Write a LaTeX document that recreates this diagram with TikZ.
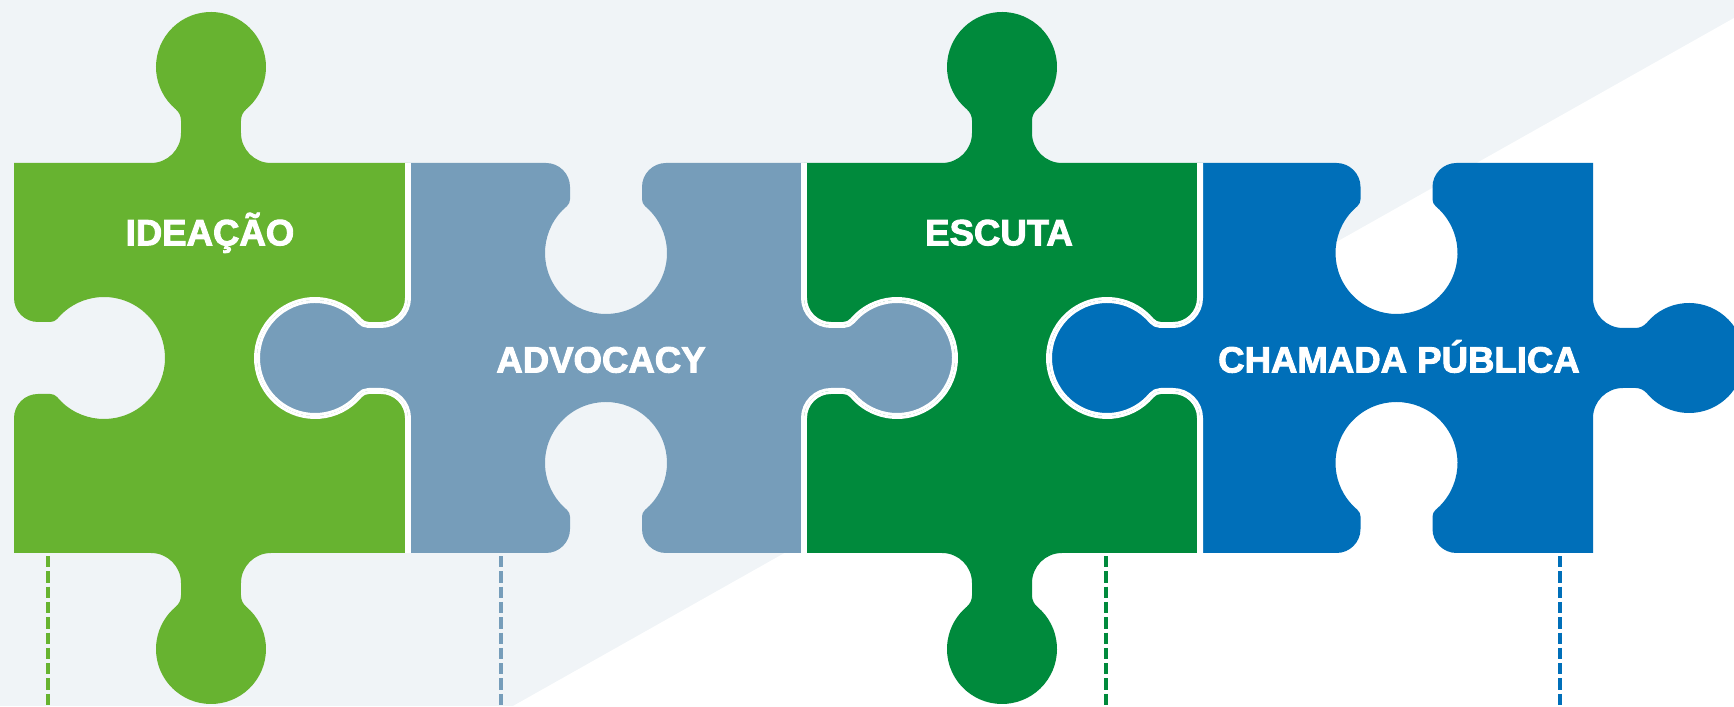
\documentclass[tikz,border=0pt]{standalone}
\usepackage{fontspec}
\setmainfont{Liberation Sans}[BoldFeatures={FakeBold=2.5}]

\definecolor{bgcol}{RGB}{240,244,247}
\definecolor{ideacol}{RGB}{103,179,48}
\definecolor{advcol}{RGB}{118,157,186}
\definecolor{escol}{RGB}{0,138,60}
\definecolor{chamcol}{RGB}{0,111,185}

% one side of a piece: #1 = direction of travel, #2 = 1 for a tab, -1 for a socket,
% #3 = inset of the outline (3 on free sides, 0 where pieces meet), #4 = length
\newcommand{\pedge}[4]{%
  -- ++(#1:{(#4)/2-60})
  arc[start angle={#1+(#2)*(-90)}, end angle={#1}, radius={27+(#2)*(#3)}]
  -- ++({#1+(#2)*90}:12.38)
  arc[start angle={#1}, end angle={#1+(#2)*50}, radius={12+(#2)*(#3)}]
  arc[start angle={#1+(#2)*230}, end angle={#1+(#2)*(-50)}, radius={58-(#2)*(#3)}]
  arc[start angle={#1+(#2)*130}, end angle={#1+(#2)*180}, radius={12+(#2)*(#3)}]
  -- ++({#1+(#2)*(-90)}:12.38)
  arc[start angle={#1+(#2)*180}, end angle={#1+(#2)*270}, radius={27+(#2)*(#3)}]
  -- ++(#1:{(#4)/2-60})}
% whole piece: left x, right x, sign top/bottom, sign right/left, inset left, inset right
\newcommand{\ppath}[6]{(#1,543) \pedge{0}{#3}{3}{#2-#1} \pedge{-90}{#4}{#6}{390}
  \pedge{180}{#3}{3}{#2-#1} \pedge{90}{#4}{#5}{390} -- cycle}

\tikzset{
  seam/.style={draw=white, line width=1.7pt, line join=round},
  lbl/.style={text=white, anchor=base, font=\bfseries\fontsize{10.4}{12}\selectfont},
  guide/.style={line width=1.1pt, dash pattern=on 0.113cm off 0.04cm}
}

\begin{document}
\begin{tikzpicture}[x=0.01cm, y=0.01cm]
    \useasboundingbox (0,0) rectangle (1734,706);
    \clip (0,0) rectangle (1734,706);

    % Background
    \fill[bgcol] (0,0) rectangle (1734,706);
    \fill[white] (513,0) -- (1734,688) -- (1734,0) -- cycle;

    % Pieces
    \foreach \xl/\xr/\s/\t/\il/\ir/\col in {14/408/1/-1/3/0/ideacol, 408/804/-1/1/0/0/advcol,
        804/1200/1/-1/0/0/escol, 1200/1593/-1/1/0/3/chamcol} {
        \fill[\col] \ppath{\xl}{\xr}{\s}{\t}{\il}{\ir};
    }

    % White seams where pieces meet
    \foreach \xl/\xr/\s/\t/\il/\ir [count=\i] in {14/408/1/-1/3/0, 408/804/-1/1/0/0,
        804/1200/1/-1/0/0, 1200/1593/-1/1/0/3} {
        \begin{scope}
            \clip \ppath{\xl}{\xr}{\s}{\t}{\il}{\ir};
            \foreach \al/\ar/\as/\at/\ail/\air [count=\j] in {14/408/1/-1/3/0, 408/804/-1/1/0/0,
                804/1200/1/-1/0/0, 1200/1593/-1/1/0/3} {
                \ifnum\i=\j\relax\else
                    \draw[seam] \ppath{\al}{\ar}{\as}{\at}{\ail}{\air};
                \fi
            }
        \end{scope}
    }

    % Labels
    \node[lbl] (ideacao) at (210,460.7) {IDEAÇÃO};
    \node[lbl] (advocacy) at (601,333.5) {ADVOCACY};
    \node[lbl] (escuta) at (999,460.7) {ESCUTA};
    \node[lbl] (chamada) at (1399,333.5) {CHAMADA PÚBLICA};

    % Dashed guides
    \foreach \x/\col [count=\i] in {48/ideacol, 501/advcol, 1106/escol, 1560/chamcol} {
        \coordinate (g\i top) at (\x,150);
        \coordinate (g\i bot) at (\x,0);
        \draw[guide, \col] (g\i top) -- (g\i bot);
    }
\end{tikzpicture}
\end{document}
